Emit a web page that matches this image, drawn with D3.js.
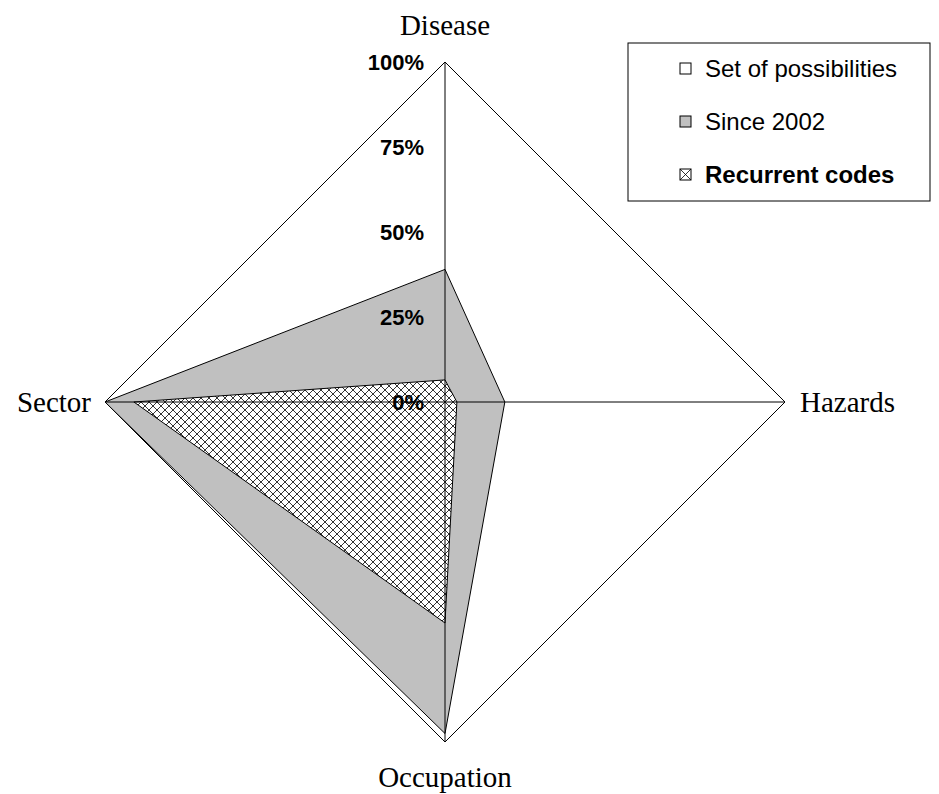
<!DOCTYPE html>
<html>
<head>
<meta charset="utf-8">
<script src="https://cdn.jsdelivr.net/npm/d3@7/dist/d3.min.js"></script>
<style>
  html, body { margin: 0; padding: 0; background: #fff; }
  svg { display: block; }
</style>
</head>
<body>
<svg id="chart" width="939" height="794"></svg>
<script>
// Radar axes, clockwise from the top
const axes = ["Disease", "Hazards", "Occupation", "Sector"];

// Series values (share of the maximum on each axis)
const setOfPossibilities = [1.0, 1.0, 1.0, 1.0];
const since2002 = [0.39, 0.176, 0.975, 1.0];
const recurrentCodes = [0.065, 0.035, 0.65, 0.915];

// Radial ticks
const tickValues = [0, 0.25, 0.5, 0.75, 1.0];
const tickLabels = ["0%", "25%", "50%", "75%", "100%"];

const seriesNames = ["Set of possibilities", "Since 2002", "Recurrent codes"];

const svg = d3.select("#chart");
const cx = 445, cy = 402, R = 340;

const r = d3.scaleLinear().domain([0, 1]).range([0, R]);
const angle = d3.scaleBand().domain(axes).range([0, 2 * Math.PI]).align(0).paddingInner(0).paddingOuter(0);
const ang = d => angle(d);

// Crosshatch fill
const defs = svg.append("defs");
const pat = defs.append("pattern")
  .attr("id", "hatch")
  .attr("patternUnits", "userSpaceOnUse")
  .attr("width", 8).attr("height", 8);
pat.append("rect").attr("width", 8).attr("height", 8).attr("fill", "#fff");
pat.append("path").attr("d", "M0,0L8,8M8,0L0,8M-1,7L1,9M7,-1L9,1M-1,1L1,-1M7,9L9,7")
  .attr("stroke", "#000").attr("stroke-width", 0.8).attr("fill", "none");

const g = svg.append("g").attr("transform", `translate(${cx},${cy})`);

const radial = d3.lineRadial()
  .angle((d, i) => ang(axes[i]))
  .radius(d => r(d))
  .curve(d3.curveLinearClosed);

const series = [
  { name: seriesNames[0], values: setOfPossibilities, fill: "#ffffff" },
  { name: seriesNames[1], values: since2002, fill: "#c0c0c0" },
  { name: seriesNames[2], values: recurrentCodes, fill: "url(#hatch)" }
];

g.selectAll("path.area")
  .data(series)
  .join("path")
  .attr("class", "area")
  .attr("d", d => radial(d.values))
  .attr("fill", d => d.fill)
  .attr("stroke", "#000")
  .attr("stroke-width", 1)
  .attr("stroke-linejoin", "miter");

// Spokes
const pt = (a, v) => [Math.sin(ang(a)) * r(v), -Math.cos(ang(a)) * r(v)];
g.selectAll("line.spoke")
  .data(axes)
  .join("line")
  .attr("class", "spoke")
  .attr("x1", 0).attr("y1", 0)
  .attr("x2", d => pt(d, 1)[0])
  .attr("y2", d => pt(d, 1)[1])
  .attr("stroke", "#000")
  .attr("stroke-width", 1);

// Tick labels along the upper spoke
g.selectAll("text.tick")
  .data(tickValues)
  .join("text")
  .attr("class", "tick")
  .attr("x", -21)
  .attr("y", d => -r(d) + 8)
  .attr("text-anchor", "end")
  .attr("font-family", "Liberation Sans, Arial, sans-serif")
  .attr("font-weight", "bold")
  .attr("font-size", 22)
  .text((d, i) => tickLabels[i]);

// Axis names
const labelPos = {
  Disease: { x: 0, y: -R - 27, anchor: "middle" },
  Hazards: { x: R + 15, y: 10, anchor: "start" },
  Occupation: { x: 0, y: R + 45, anchor: "middle" },
  Sector: { x: -R - 14, y: 10, anchor: "end" }
};
g.selectAll("text.axisname")
  .data(axes)
  .join("text")
  .attr("class", "axisname")
  .attr("x", d => labelPos[d].x)
  .attr("y", d => labelPos[d].y)
  .attr("text-anchor", d => labelPos[d].anchor)
  .attr("font-family", "Liberation Serif, Times New Roman, serif")
  .attr("font-size", 29)
  .text(d => d);

// Legend
const legend = svg.append("g").attr("transform", "translate(628,43)");
legend.append("rect")
  .attr("width", 302).attr("height", 158)
  .attr("fill", "#fff").attr("stroke", "#000").attr("stroke-width", 1);
const items = legend.selectAll("g.item")
  .data(series)
  .join("g")
  .attr("class", "item")
  .attr("transform", (d, i) => `translate(52,${26 + i * 53})`);
items.append("rect")
  .attr("x", 0).attr("y", -6).attr("width", 11).attr("height", 11)
  .attr("fill", d => d.fill === "url(#hatch)" ? "#fff" : d.fill)
  .attr("stroke", "#000").attr("stroke-width", 1);
items.filter((d, i) => i === 2).append("path")
  .attr("d", "M0,-6L11,5M11,-6L0,5")
  .attr("stroke", "#000").attr("stroke-width", 0.8);
items.append("text")
  .attr("x", 25).attr("y", 8)
  .attr("font-family", "Liberation Sans, Arial, sans-serif")
  .attr("font-size", 24)
  .attr("font-weight", (d, i) => i === 2 ? "bold" : "normal")
  .text(d => d.name);
</script>
</body>
</html>
